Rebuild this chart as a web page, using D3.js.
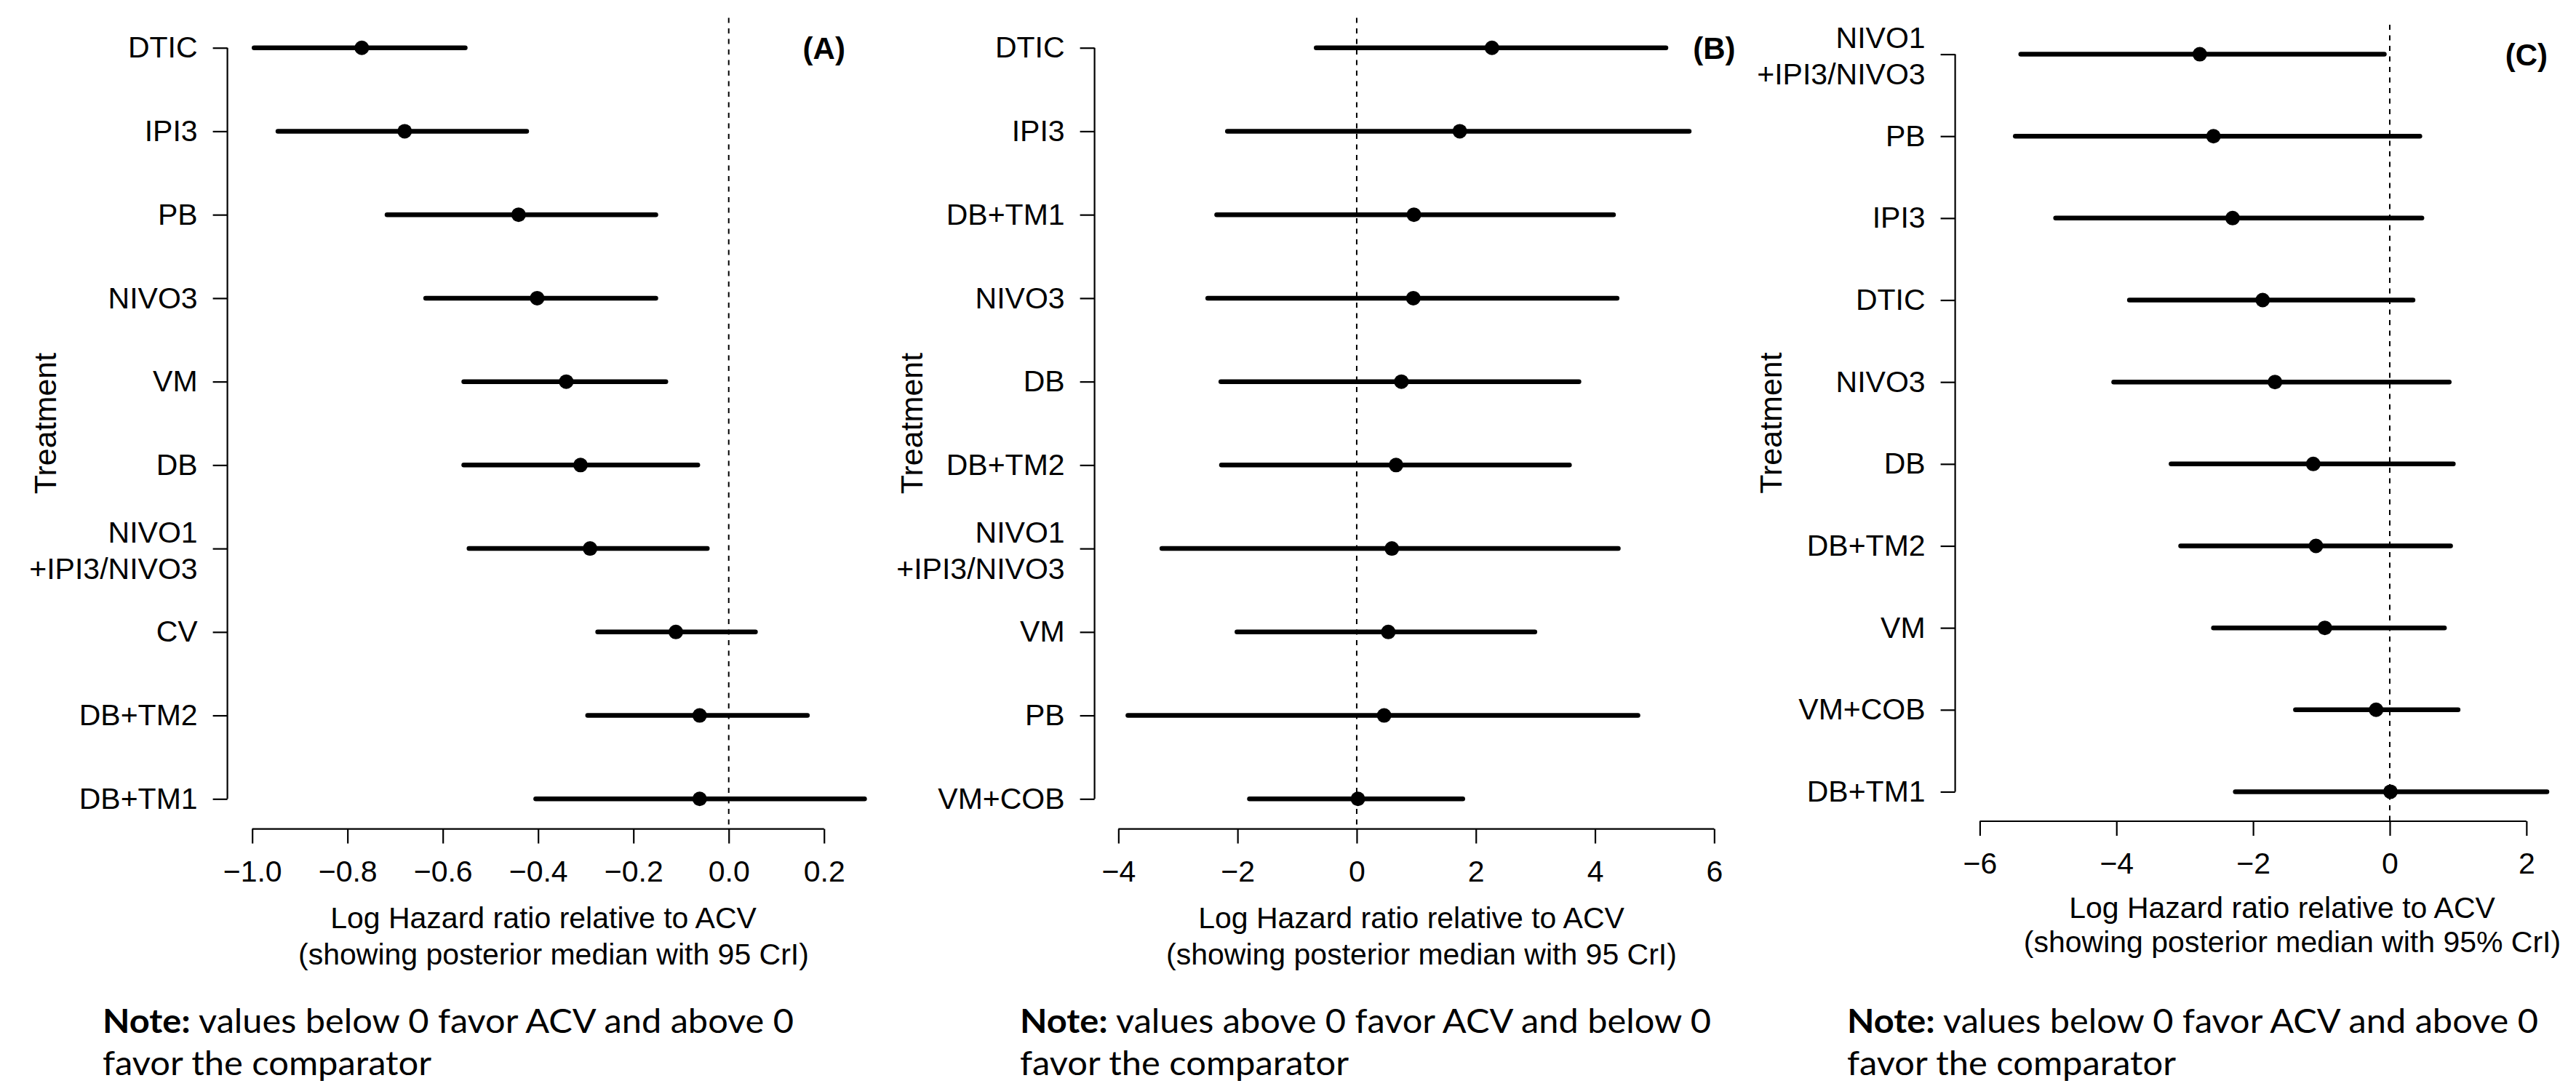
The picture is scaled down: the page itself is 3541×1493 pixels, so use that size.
<!DOCTYPE html>
<html>
<head>
<meta charset="utf-8">
<script src="https://cdn.jsdelivr.net/npm/d3@7"></script>
<style>
  body { margin: 0; background: #fff; }
  svg { display: block; font-family: "Liberation Sans", Arial, sans-serif; }
</style>
</head>
<body>
<div class="svg-container"></div>
<script>
// panel A: log HR vs ACV (posterior median, 95% CrI)
const treatmentsA = ["DTIC", "IPI3", "PB", "NIVO3", "VM", "DB", "NIVO1\n+IPI3/NIVO3", "CV", "DB+TM2", "DB+TM1"];
const medianA = [-0.770, -0.680, -0.441, -0.402, -0.341, -0.311, -0.291, -0.111, -0.061, -0.061];
const lowerA = [-0.996, -0.946, -0.717, -0.636, -0.556, -0.556, -0.545, -0.275, -0.296, -0.405];
const upperA = [-0.553, -0.424, -0.153, -0.153, -0.132, -0.065, -0.045, 0.056, 0.165, 0.285];
const ticksA = [-1.0, -0.8, -0.6, -0.4, -0.2, 0.0, 0.2];

// panel B
const treatmentsB = ["DTIC", "IPI3", "DB+TM1", "NIVO3", "DB", "DB+TM2", "NIVO1\n+IPI3/NIVO3", "VM", "PB", "VM+COB"];
const medianB = [2.27, 1.73, 0.96, 0.95, 0.75, 0.66, 0.59, 0.53, 0.46, 0.02];
const lowerB = [-0.68, -2.17, -2.35, -2.50, -2.28, -2.27, -3.27, -2.01, -3.84, -1.80];
const upperB = [5.19, 5.58, 4.31, 4.37, 3.73, 3.57, 4.39, 2.99, 4.72, 1.78];
const ticksB = [-4, -2, 0, 2, 4, 6];

// panel C
const treatmentsC = ["NIVO1\n+IPI3/NIVO3", "PB", "IPI3", "DTIC", "NIVO3", "DB", "DB+TM2", "VM", "VM+COB", "DB+TM1"];
const medianC = [-2.78, -2.58, -2.30, -1.86, -1.68, -1.12, -1.08, -0.95, -0.20, 0.01];
const lowerC = [-5.40, -5.48, -4.89, -3.81, -4.04, -3.20, -3.06, -2.58, -1.38, -2.26];
const upperC = [-0.08, 0.44, 0.47, 0.34, 0.87, 0.93, 0.89, 0.80, 1.00, 2.30];
const ticksC = [-6, -4, -2, 0, 2];

const xTitle = "Log Hazard ratio relative to ACV";
const noteBelow = ["values below 0 favor ACV and above 0", "favor the comparator"];
const noteAbove = ["values above 0 favor ACV and below 0", "favor the comparator"];

const width = 3541;
const height = 1493;
const labelSize = 41;

// where each panel sits on the page
const panels = [
  {
    tag: "(A)", tagX: 0.2, names: treatmentsA, med: medianA, lo: lowerA, hi: upperA,
    ticks: ticksA, fmt: ".1f", xlim: [-1, 0.3],
    left: 312.6, right: 1232.3, top: 24.4, bottom: 1139.6,
    ylabX: 77, xlabX: 754, xlabDy: [136, 186],
    sub: "(showing posterior median with 95 CrI)", note: noteBelow, noteX: 141,
  },
  {
    tag: "(B)", tagX: 6, names: treatmentsB, med: medianB, lo: lowerB, hi: upperB,
    ticks: ticksB, fmt: "d", xlim: [-4, 6],
    left: 1504.6, right: 2389.1, top: 24.4, bottom: 1139.6,
    ylabX: 1268, xlabX: 1947, xlabDy: [136, 186],
    sub: "(showing posterior median with 95 CrI)", note: noteAbove, noteX: 1402,
  },
  {
    tag: "(C)", tagX: 2, names: treatmentsC, med: medianC, lo: lowerC, hi: upperC,
    ticks: ticksC, fmt: "d", xlim: [-6, 3],
    left: 2687.6, right: 3600.6, top: 34, bottom: 1129,
    ylabX: 2449, xlabX: 3144, xlabDy: [133, 180],
    sub: "(showing posterior median with 95% CrI)", note: noteBelow, noteX: 2539,
  },
];

const svg = d3
  .select(".svg-container")
  .append("svg")
  .attr("width", width)
  .attr("height", height);

svg.append("rect").attr("width", width).attr("height", height).attr("fill", "#fff");

function drawPanel(p) {
  const n = p.names.length;
  const pad = (p.xlim[1] - p.xlim[0]) * 0.04; // R style axis padding
  const x = d3.scaleLinear().domain([p.xlim[0] - pad, p.xlim[1] + pad]).range([p.left, p.right]);
  const y = d3.scaleLinear().domain([-0.36, n - 1 + 0.36]).range([p.top, p.bottom]);

  const g = svg.append("g");

  // reference line at 0
  g.append("line")
    .attr("x1", x(0))
    .attr("x2", x(0))
    .attr("y1", p.top)
    .attr("y2", p.bottom)
    .attr("stroke", "#000")
    .attr("stroke-width", 2)
    .attr("stroke-dasharray", "7,7.5");

  // x axis, line only between first and last tick
  const gx = g
    .append("g")
    .attr("transform", `translate(0,${p.bottom})`)
    .call(
      d3.axisBottom(x)
        .tickValues(p.ticks)
        .tickFormat(d3.format(p.fmt))
        .tickSize(20)
        .tickSizeOuter(0)
        .tickPadding(23)
    )
    .attr("font-size", labelSize)
    .attr("font-family", null);
  gx.select(".domain").remove();
  gx.append("line")
    .attr("x1", x(p.ticks[0]))
    .attr("x2", x(p.ticks[p.ticks.length - 1]))
    .attr("stroke", "#000")
    .attr("stroke-width", 2.2);
  gx.selectAll(".tick line").attr("stroke-width", 2.2);

  // y axis with treatment names
  const gy = g
    .append("g")
    .attr("transform", `translate(${p.left},0)`)
    .call(
      d3.axisLeft(y)
        .tickValues(d3.range(n))
        .tickFormat((i) => p.names[i])
        .tickSize(20)
        .tickPadding(21)
    )
    .attr("font-size", labelSize)
    .attr("font-family", null);
  gy.select(".domain").remove();
  gy.append("line")
    .attr("y1", y(0))
    .attr("y2", y(n - 1))
    .attr("stroke", "#000")
    .attr("stroke-width", 2.2);
  gy.selectAll(".tick line").attr("stroke-width", 2.2);

  // two line label for the combo treatment
  gy.selectAll(".tick text").each(function (i) {
    const lines = p.names[i].split("\n");
    if (lines.length < 2) return;
    const t = d3.select(this).text(null).attr("dy", null);
    lines.forEach((s, k) => {
      t.append("tspan").attr("x", -41).attr("y", k === 0 ? -9 : 41).text(s);
    });
  });

  // credible intervals
  g.append("g")
    .selectAll("line")
    .data(d3.range(n))
    .enter()
    .append("line")
    .attr("x1", (i) => x(p.lo[i]))
    .attr("x2", (i) => x(p.hi[i]))
    .attr("y1", (i) => y(i))
    .attr("y2", (i) => y(i))
    .attr("stroke", "#000")
    .attr("stroke-width", 6.5)
    .attr("stroke-linecap", "round");

  // medians
  g.append("g")
    .selectAll("circle")
    .data(d3.range(n))
    .enter()
    .append("circle")
    .attr("cx", (i) => x(p.med[i]))
    .attr("cy", (i) => y(i))
    .attr("r", 10)
    .attr("fill", "#000");

  // panel tag
  g.append("text")
    .attr("x", x(p.tagX))
    .attr("y", y(0) + 15)
    .attr("text-anchor", "middle")
    .attr("font-size", 42)
    .attr("font-weight", "bold")
    .text(p.tag);

  // axis titles
  g.append("text")
    .attr("transform", `translate(${p.ylabX},${(p.top + p.bottom) / 2}) rotate(-90)`)
    .attr("text-anchor", "middle")
    .attr("font-size", 43)
    .text("Treatment");

  g.append("text")
    .attr("x", p.xlabX - 7)
    .attr("y", p.bottom + p.xlabDy[0])
    .attr("text-anchor", "middle")
    .attr("font-size", labelSize)
    .text(xTitle);
  g.append("text")
    .attr("x", p.xlabX + 7)
    .attr("y", p.bottom + p.xlabDy[1])
    .attr("text-anchor", "middle")
    .attr("font-size", labelSize)
    .text(p.sub);

  // note under each panel
  const note1 = g
    .append("text")
    .attr("x", p.noteX)
    .attr("y", 1420)
    .attr("font-family", "Lato, 'Open Sans', sans-serif")
    .attr("font-size", 46)
    .attr("textLength", 950)
    .attr("lengthAdjust", "spacingAndGlyphs");
  note1.append("tspan").attr("font-weight", "bold").text("Note:");
  note1.append("tspan").text(" " + p.note[0]);

  g.append("text")
    .attr("x", p.noteX)
    .attr("y", 1478)
    .attr("font-family", "Lato, 'Open Sans', sans-serif")
    .attr("font-size", 46)
    .attr("textLength", 452)
    .attr("lengthAdjust", "spacingAndGlyphs")
    .text(p.note[1]);
}

panels.forEach(drawPanel);
</script>
</body>
</html>
